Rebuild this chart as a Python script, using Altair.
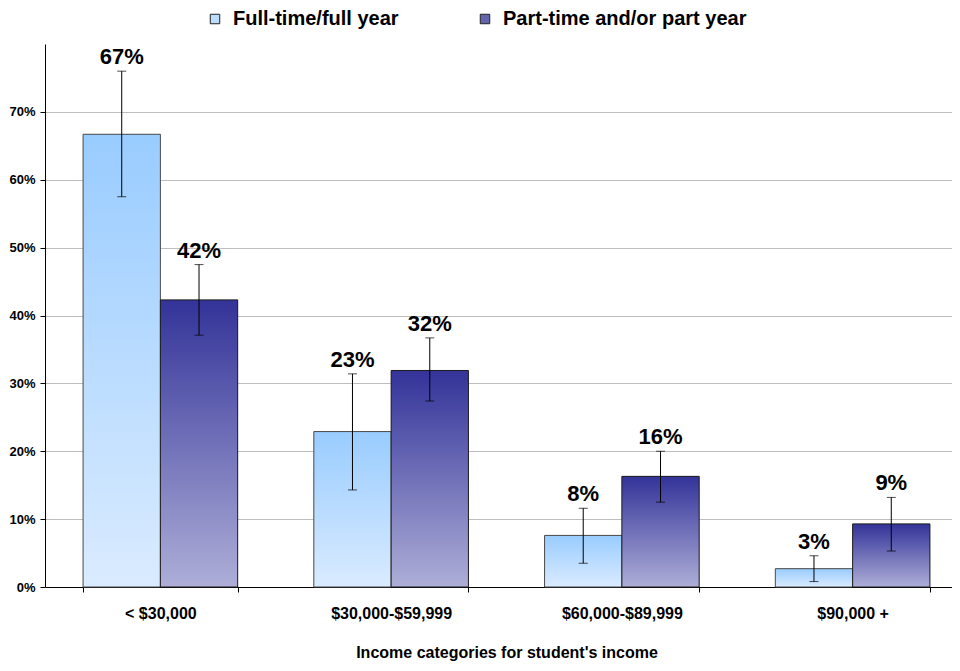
import altair as alt
import pandas as pd

categories = ["< $30,000", "$30,000-$59,999", "$60,000-$89,999", "$90,000 +"]
series = ["Full-time/full year", "Part-time and/or part year"]

full_time = [0.667, 0.229, 0.076, 0.027]
full_time_lo = [0.575, 0.143, 0.035, 0.008]
full_time_hi = [0.760, 0.314, 0.116, 0.046]

part_time = [0.423, 0.319, 0.163, 0.093]
part_time_lo = [0.371, 0.274, 0.125, 0.053]
part_time_hi = [0.475, 0.367, 0.200, 0.132]

y_ticks = [0, 0.1, 0.2, 0.3, 0.4, 0.5, 0.6, 0.7]

rows = []
for i, c in enumerate(categories):
    rows.append(dict(category=c, series=series[0], value=full_time[i],
                     lo=full_time_lo[i], hi=full_time_hi[i]))
    rows.append(dict(category=c, series=series[1], value=part_time[i],
                     lo=part_time_lo[i], hi=part_time_hi[i]))
df = pd.DataFrame(rows)

FONT = "Liberation Sans"

x_scale = alt.Scale(paddingInner=0.33, paddingOuter=0.165, range=[0, 923])
x_axis = alt.Axis(title="Income categories for student's income", labelAngle=0,
                  tickBand="extent", grid=False, tickSize=5, labelPadding=13,
                  labelFontSize=16, titleFontSize=16, titlePadding=23)
y_scale = alt.Scale(domain=[0, 0.8], nice=False)
y_axis = alt.Axis(values=y_ticks, format=".0%", grid=True, gridColor="#BEBEBE",
                  tickSize=5, labelPadding=5, labelFontSize=13, title=None)


def X():
    return alt.X("category:N", sort=categories, scale=x_scale, axis=x_axis)


def XO():
    return alt.XOffset("series:N", sort=series, scale=alt.Scale(domain=series))


def Y(field):
    return alt.Y(field, scale=y_scale, axis=y_axis, title=None)


ft_grad = alt.LinearGradient(
    gradient="linear", x1=0, y1=0, x2=0, y2=1,
    stops=[alt.GradientStop(color="#99CCFF", offset=0),
           alt.GradientStop(color="#DAEBFF", offset=1)])
pt_grad = alt.LinearGradient(
    gradient="linear", x1=0, y1=0, x2=0, y2=1,
    stops=[alt.GradientStop(color="#333399", offset=0),
           alt.GradientStop(color="#AEAED8", offset=1)])

base = alt.Chart(df).mark_bar().encode(
    x=X(), xOffset=XO(), y=Y("value:Q"),
    color=alt.Color("series:N", sort=series,
                    scale=alt.Scale(domain=series, range=["#BBDBFF", "#6464AE"]),
                    legend=alt.Legend(orient="none", legendX=160, legendY=-35,
                                      direction="horizontal", title=None,
                                      symbolType="square", symbolSize=90,
                                      symbolStrokeColor="#222222", symbolStrokeWidth=1,
                                      labelFontSize=20, labelFont=FONT,
                                      labelFontWeight="bold", labelColor="black",
                                      labelOffset=8, columnPadding=76, labelLimit=400)),
)

ft_bars = alt.Chart(df).transform_filter(alt.datum.series == series[0]).mark_bar(
    fill=ft_grad, stroke="#4A4A4A", strokeWidth=1
).encode(x=X(), xOffset=XO(), y=Y("value:Q"))

pt_bars = alt.Chart(df).transform_filter(alt.datum.series == series[1]).mark_bar(
    fill=pt_grad, stroke="#1E1E1E", strokeWidth=1
).encode(x=X(), xOffset=XO(), y=Y("value:Q"))

err = alt.Chart(df).mark_rule(color="black", strokeWidth=1).encode(
    x=X(), xOffset=XO(), y=Y("lo:Q"), y2="hi:Q")
cap_lo = alt.Chart(df).mark_tick(color="black", thickness=1, size=9).encode(
    x=X(), xOffset=XO(), y=Y("lo:Q"))
cap_hi = alt.Chart(df).mark_tick(color="black", thickness=1, size=9).encode(
    x=X(), xOffset=XO(), y=Y("hi:Q"))

labels = alt.Chart(df).mark_text(font=FONT, fontSize=22, fontWeight="bold",
                                 color="black", dy=-7, baseline="alphabetic").encode(
    x=X(), xOffset=XO(), y=Y("hi:Q"), text=alt.Text("value:Q", format=".0%"))

chart = alt.layer(base, ft_bars, pt_bars, err, cap_lo, cap_hi, labels).properties(
    width=907, height=543,
    padding={"left": 37, "top": 36, "right": 0, "bottom": 75},
    autosize=alt.AutoSizeParams(type="none"),
    background="white",
).configure_view(stroke=None).configure_axis(
    labelFont=FONT, titleFont=FONT, labelFontWeight="bold", titleFontWeight="bold",
    labelColor="black", titleColor="black", domainColor="black", tickColor="black",
)

chart.save("out.html", embed_options={"renderer": "svg", "actions": False})
